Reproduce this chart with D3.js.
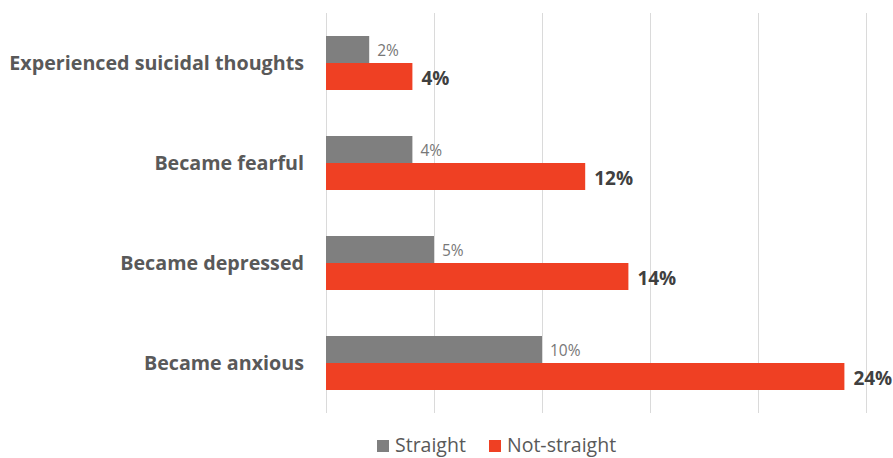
<!DOCTYPE html>
<html>
<head>
<meta charset="utf-8">
<script src="https://cdn.jsdelivr.net/npm/d3@7"></script>
<style>
  body { margin: 0; background: #fff; overflow: hidden; }
  svg { display: block; }
  text { font-family: "Open Sans", sans-serif; }
</style>
</head>
<body>
<svg id="chart"></svg>
<script>
const categories = ["Experienced suicidal thoughts", "Became fearful", "Became depressed", "Became anxious"]
const series = ["Straight", "Not-straight"]
const straight = [2, 4, 5, 10]
const notStraight = [4, 12, 14, 24]
const xTicks = [0, 5, 10, 15, 20, 25]
const colors = ["#7f7f7f", "#ef4023"]

const width = 893
const height = 458

const svg = d3.select("#chart")
  .attr("width", width)
  .attr("height", height)

const x = d3.scaleLinear()
  .domain([0, 25])
  .range([326, 866])

const y = d3.scaleBand()
  .domain(categories)
  .range([13, 413])
  .paddingInner(0.46)
  .paddingOuter(0.23)

const ySub = d3.scaleBand()
  .domain(series)
  .range([0, y.bandwidth()])

// gridlines
svg.append("g")
  .selectAll("line")
  .data(xTicks)
  .enter()
  .append("line")
  .attr("x1", d => x(d) + 0.5)
  .attr("x2", d => x(d) + 0.5)
  .attr("y1", 13)
  .attr("y2", 413)
  .style("stroke", "#dadada")
  .style("stroke-width", 1)

var rows = categories.map((c, i) => ({cat: c, vals: [straight[i], notStraight[i]]}))

const groups = svg.append("g")
  .selectAll("g")
  .data(rows)
  .enter()
  .append("g")
  .attr("transform", d => "translate(0," + y(d.cat) + ")")

groups.selectAll("rect")
  .data(d => d.vals.map((v, j) => ({s: series[j], v: v, j: j})))
  .enter()
  .append("rect")
  .attr("x", x(0))
  .attr("y", d => ySub(d.s))
  .attr("width", d => x(d.v) - x(0))
  .attr("height", ySub.bandwidth())
  .style("fill", d => colors[d.j])

// value labels
groups.selectAll("text.val")
  .data(d => d.vals.map((v, j) => ({s: series[j], v: v, j: j})))
  .enter()
  .append("text")
  .attr("class", "val")
  .attr("x", d => x(d.v) + (d.j == 0 ? 8 : 9))
  .attr("y", d => ySub(d.s) + ySub.bandwidth() / 2 + (d.j == 0 ? 1 : 2))
  .attr("dy", "0.35em")
  .style("font-size", d => d.j == 0 ? "15.5px" : "19px")
  .style("font-weight", d => d.j == 0 ? "normal" : "bold")
  .style("fill", d => d.j == 0 ? "#777777" : "#404040")
  .text(d => d.v + "%")

// category labels
svg.append("g")
  .selectAll("text")
  .data(categories)
  .enter()
  .append("text")
  .attr("x", 304)
  .attr("y", d => y(d) + y.bandwidth() / 2)
  .attr("dy", "0.35em")
  .style("text-anchor", "end")
  .style("font-size", "19.7px")
  .style("font-weight", "bold")
  .style("fill", "#595959")
  .text(d => d)

// legend
const legendX = [377, 489]
const legend = svg.append("g")
  .selectAll("g")
  .data(series)
  .enter()
  .append("g")
  .attr("transform", (d, i) => "translate(" + legendX[i] + ",440)")

legend.append("rect")
  .attr("width", 12)
  .attr("height", 12)
  .style("fill", (d, i) => colors[i])

legend.append("text")
  .attr("x", 18)
  .attr("y", 12)
  .style("font-size", "19.5px")
  .style("fill", "#595959")
  .text(d => d)
</script>
</body>
</html>
